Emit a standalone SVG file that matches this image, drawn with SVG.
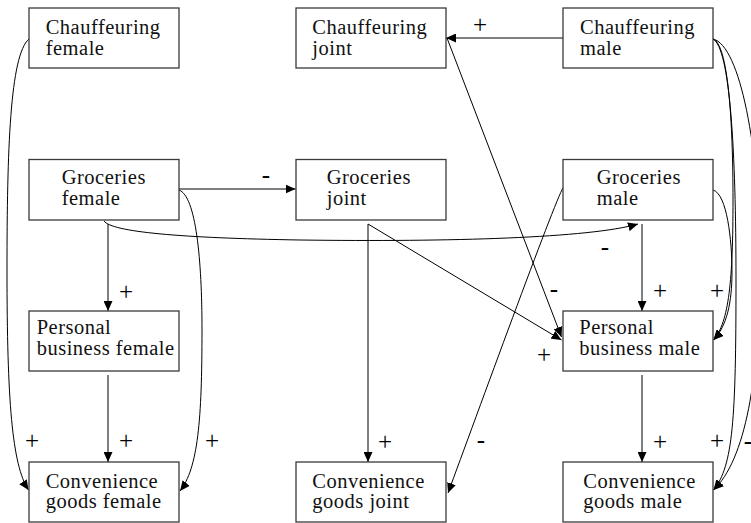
<svg xmlns="http://www.w3.org/2000/svg" width="751" height="523" viewBox="0 0 751 523">
<defs>
<style>
.box{fill:#fff;stroke:#3a3a3a;stroke-width:1.3}
.t{font-family:'Liberation Serif','Times New Roman',serif;font-size:20.5px;letter-spacing:0.5px;fill:#111}
.c{fill:none;stroke:#000;stroke-width:1}
.s{font-family:'Liberation Serif','Times New Roman',serif;font-size:25px;fill:#000;text-anchor:middle}
</style>
<marker id="arr" viewBox="0 0 10 10" refX="10" refY="5" markerWidth="10" markerHeight="9" markerUnits="userSpaceOnUse" orient="auto" preserveAspectRatio="none">
<path d="M0,0 L10,5 L0,10 z" fill="#000"/>
</marker>
</defs>
<rect width="751" height="523" fill="#fff"/>

<g id="connectors">
<path class="c" marker-end="url(#arr)" d="M29,39 C10,55 7,150 7,270 C7,400 12,465 28.5,490"/>
<path class="c" marker-end="url(#arr)" d="M179,189 L295.5,189"/>
<path class="c" marker-end="url(#arr)" d="M179,190 C196,196 202,260 202,330 C202,420 198,468 180,491"/>
<path class="c" marker-end="url(#arr)" d="M108,224 L108,311"/>
<path class="c" marker-end="url(#arr)" d="M104,221 C112,232 180,238 300,240 C450,242 590,238 638,224"/>
<path class="c" marker-end="url(#arr)" d="M108,375 L108,462"/>
<path class="c" marker-end="url(#arr)" d="M368,224 L368,462"/>
<path class="c" marker-end="url(#arr)" d="M368,224 L561.5,340"/>
<path class="c" marker-end="url(#arr)" d="M563,38 L446,38"/>
<path class="c" marker-end="url(#arr)" d="M447,38 L561.5,337"/>
<path class="c" marker-end="url(#arr)" d="M563,188 C555,200 475,420 448,493"/>
<path class="c" marker-end="url(#arr)" d="M642,224 L642,311"/>
<path class="c" marker-end="url(#arr)" d="M642,375 L642,462"/>
<path class="c" marker-end="url(#arr)" d="M713,190 C727,194 732,240 732,272 C732,302 727,326 713.5,340"/>
<path class="c" marker-end="url(#arr)" d="M713,39 C728,44 733,120 733,200 C733,280 729,322 713.5,340"/>
<path class="c" marker-end="url(#arr)" d="M713,39 C730,48 736,150 736,280 C736,420 733,466 713.5,490"/>
<path class="c" marker-end="url(#arr)" d="M713,39 C740,45 760,150 760,260 C760,380 745,460 713.5,490"/>
</g>

<g id="labels">
<text class="s" x="480" y="33">+</text>
<text class="s" x="266" y="183">-</text>
<text class="s" x="126" y="300">+</text>
<text class="s" x="605" y="255">-</text>
<text class="s" x="554" y="297">-</text>
<text class="s" x="660" y="299">+</text>
<text class="s" x="717" y="299">+</text>
<text class="s" x="544" y="363">+</text>
<text class="s" x="32" y="449">+</text>
<text class="s" x="126" y="449">+</text>
<text class="s" x="212" y="449">+</text>
<text class="s" x="385" y="450">+</text>
<text class="s" x="481" y="448">-</text>
<text class="s" x="660" y="450">+</text>
<text class="s" x="717" y="449">+</text>
<text class="s" x="748" y="449">-</text>
</g>

<g id="chauffeuring-female">
<rect class="box" x="29" y="8" width="150" height="60"/>
<text class="t" x="45.7" y="34"><tspan>Chauffeuring</tspan><tspan x="45.7" dy="21">female</tspan></text>
</g>
<g id="chauffeuring-joint">
<rect class="box" x="296" y="8" width="150" height="60"/>
<text class="t" x="312.3" y="34"><tspan>Chauffeuring</tspan><tspan x="312.3" dy="21">joint</tspan></text>
</g>
<g id="chauffeuring-male">
<rect class="box" x="563" y="8" width="150" height="60"/>
<text class="t" x="580" y="34"><tspan>Chauffeuring</tspan><tspan x="580" dy="21">male</tspan></text>
</g>
<g id="groceries-female">
<rect class="box" x="29" y="159.5" width="150" height="60.5"/>
<text class="t" x="61.7" y="184"><tspan>Groceries</tspan><tspan x="61.7" dy="21">female</tspan></text>
</g>
<g id="groceries-joint">
<rect class="box" x="296" y="159.5" width="150" height="60.5"/>
<text class="t" x="326.7" y="184"><tspan>Groceries</tspan><tspan x="326.7" dy="21">joint</tspan></text>
</g>
<g id="groceries-male">
<rect class="box" x="563" y="159.5" width="150" height="60.5"/>
<text class="t" x="596.7" y="184"><tspan>Groceries</tspan><tspan x="596.7" dy="21">male</tspan></text>
</g>
<g id="personal-business-female">
<rect class="box" x="29" y="311" width="150" height="60"/>
<text class="t" x="36.7" y="334"><tspan>Personal</tspan><tspan x="36.7" dy="21">business female</tspan></text>
</g>
<g id="personal-business-male">
<rect class="box" x="563" y="311" width="150" height="60"/>
<text class="t" x="579.3" y="334"><tspan>Personal</tspan><tspan x="579.3" dy="21">business male</tspan></text>
</g>
<g id="convenience-goods-female">
<rect class="box" x="29" y="462" width="150" height="60"/>
<text class="t" x="45.7" y="487.5"><tspan>Convenience</tspan><tspan x="45.7" dy="20.5">goods female</tspan></text>
</g>
<g id="convenience-goods-joint">
<rect class="box" x="296" y="462" width="150" height="60"/>
<text class="t" x="312.3" y="487.5"><tspan>Convenience</tspan><tspan x="312.3" dy="20.5">goods joint</tspan></text>
</g>
<g id="convenience-goods-male">
<rect class="box" x="563" y="462" width="150" height="60"/>
<text class="t" x="583.3" y="487.5"><tspan>Convenience</tspan><tspan x="583.3" dy="20.5">goods male</tspan></text>
</g>
</svg>
